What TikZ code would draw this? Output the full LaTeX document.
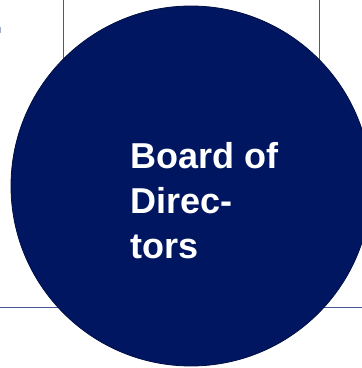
\documentclass[tikz,border=0pt]{standalone}
\usepackage{fontspec}
\setmainfont{Liberation Sans}
\usetikzlibrary{positioning}

\definecolor{boardnavy}{RGB}{0,22,96}
\definecolor{gridblue}{RGB}{70,86,150}

\tikzset{
  gridline/.style={draw=gridblue, line width=1pt},
  bigcircle/.style={circle, fill=boardnavy, draw=boardnavy!70!black, line width=0.8pt, minimum size=360pt, inner sep=0pt},
  boardlabel/.style={text=white, font=\fontsize{36}{45}\selectfont\bfseries, align=left, inner sep=0pt}
}

\begin{document}
\begin{tikzpicture}[x=1pt, y=1pt]
    \useasboundingbox (0,0) rectangle (362,368);

    \coordinate (vl top) at (64,368);
    \coordinate (vl bot) at (64,200);
    \coordinate (vr top) at (320,368);
    \coordinate (vr bot) at (320,200);
    \coordinate (hl left) at (0,61);
    \coordinate (hl right) at (362,61);
    \coordinate (tick top) at (0.5,341);
    \coordinate (tick bot) at (0.5,335);

    \draw[gridline] (vl top) -- (vl bot);
    \draw[gridline] (vr top) -- (vr bot);
    \draw[gridline] (hl left) -- (hl right);
    \draw[gridline, gridblue!50] (tick top) -- (tick bot);

    \node[bigcircle] (board) at (191,182) {};
    \node[boardlabel, anchor=north west] (boardtext) at (130.5,225.5) {Board of\\Direc-\\tors};
\end{tikzpicture}
\end{document}
